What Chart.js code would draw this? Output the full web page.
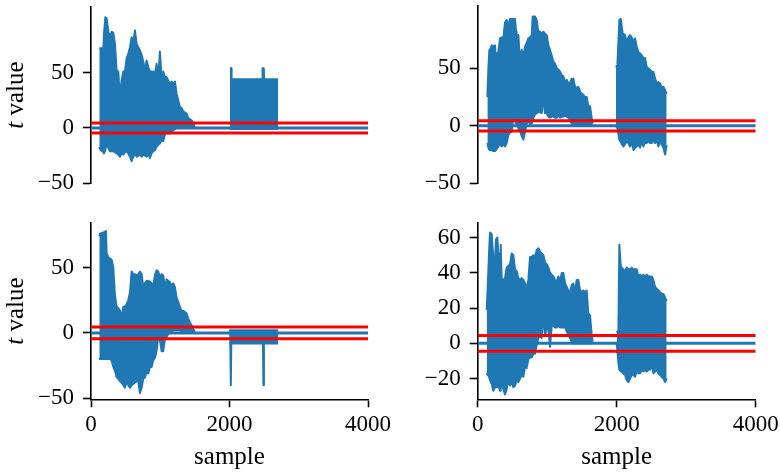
<!DOCTYPE html>
<html>
<head>
<meta charset="utf-8">
<script src="https://cdn.jsdelivr.net/npm/chart.js@4.4.1/dist/chart.umd.min.js"></script>
<style>
  html, body { margin: 0; padding: 0; background: #fff; }
  #wrap { position: relative; width: 780px; height: 475px; }
  #wrap canvas { position: absolute; left: 0; top: 0; }
</style>
</head>
<body>
<div id="wrap">
  <canvas id="tl" width="780" height="475"></canvas>
  <canvas id="tr" width="780" height="475"></canvas>
  <canvas id="bl" width="780" height="475"></canvas>
  <canvas id="br" width="780" height="475"></canvas>
</div>
<script>
// envelope of the t-value trace (upper / lower edge per sample)
// top-left
const tlX1 = [120, 140, 178, 188, 207, 226, 250, 274, 298, 322, 346, 370, 394, 418, 442, 466, 490, 514, 538, 563, 587, 611, 635, 659, 683, 707, 731, 755, 779, 803, 827, 851, 875, 899, 923, 947, 971, 995, 1019, 1043, 1067, 1091, 1115, 1139, 1163, 1188, 1212, 1236, 1260, 1284, 1308, 1332, 1380, 1404, 1452, 1476, 1500];
const tlHi1 = [72, 72, 72, 85, 100, 99, 87, 82, 87, 86, 76, 52, 51, 28, 43, 51, 51, 63, 67, 73, 82, 78, 88, 76, 73, 70, 66, 60, 52, 61, 55, 51, 51, 51, 48, 58, 45, 69, 46, 51, 46, 46, 43, 39, 42, 40, 42, 31, 25, 19, 18, 15, 13, 9, 7, 4, 1];
const tlLo1 = [-17, -20, -22, -23, -20, -14, -18, -21, -21, -21, -22, -23, -24, -26, -23, -24, -22, -21, -23, -26, -30, -26, -23, -26, -25, -24, -26, -24, -25, -26, -23, -27, -23, -21, -20, -17, -15, -14, -11, -12, -6, -3, -5, -5, -3, -2, -1, 0, 0, 0, 0, 0, 0, 0, 0, 0, 0];
const tlX2 = [2005, 2025, 2030, 2472, 2477, 2495, 2500, 2702];
const tlHi2 = [54, 54, 44, 44, 54, 54, 44, 44];
const tlLo2 = [-1, -1, -1, -1, -1, -1, -1, -1];

// top-right
const trX1 = [139, 153, 168, 187, 201, 225, 249, 264, 273, 297, 321, 345, 369, 393, 417, 441, 465, 489, 513, 537, 552, 561, 585, 600, 619, 633, 657, 681, 705, 729, 753, 777, 791, 825, 849, 873, 897, 921, 945, 969, 993, 1017, 1041, 1065, 1089, 1113, 1137, 1160, 1185, 1209, 1233, 1257, 1281, 1304, 1328, 1352, 1376, 1400, 1424, 1448, 1472, 1496, 1520, 1544, 1568, 1592, 1616, 1640, 1655];
const trHi1 = [25, 49, 66, 67, 70, 69, 70, 56, 63, 64, 76, 77, 76, 90, 92, 87, 93, 93, 93, 93, 82, 79, 79, 64, 61, 66, 61, 69, 72, 76, 77, 79, 95, 95, 92, 82, 82, 80, 82, 80, 79, 70, 66, 61, 56, 54, 50, 49, 47, 44, 43, 38, 40, 37, 37, 41, 41, 34, 33, 34, 30, 28, 27, 25, 25, 17, 17, 7, 2];
const trLo1 = [-15, -19, -21, -21, -21, -22, -22, -21, -21, -18, -16, -18, -16, -18, -15, -8, -6, -5, 8, 5, 2, 1, -2, -4, -6, -9, -12, -5, 2, 5, 1, 2, 6, 10, 11, 12, 12, 11, 25, 11, 11, 8, 7, 8, 8, 7, 7, 9, 7, 8, 8, 9, 8, 7, 5, 2, 1, 0, 0, 0, 0, 0, 0, 0, 0, 0, 0, 0, 0];
const trX2 = [1990, 2010, 2038, 2058, 2072, 2086, 2096, 2120, 2144, 2168, 2192, 2216, 2230, 2240, 2264, 2288, 2312, 2336, 2360, 2384, 2393, 2408, 2432, 2456, 2480, 2504, 2528, 2552, 2576, 2600, 2614, 2624, 2634, 2648, 2672, 2696, 2719];
const trHi2 = [51, 53, 92, 93, 87, 80, 80, 79, 72, 77, 79, 77, 73, 74, 76, 69, 64, 63, 61, 59, 53, 59, 51, 50, 49, 47, 47, 41, 37, 38, 35, 37, 37, 33, 34, 31, 28];
const trLo2 = [0, -2, -12, -14, -16, -17, -18, -16, -14, -15, -18, -16, -17, -21, -19, -18, -16, -19, -13, -18, -16, -15, -15, -13, -15, -15, -12, -15, -13, -18, -15, -15, -15, -16, -19, -25, -17];

// bottom-left
const blX1 = [120, 130, 178, 216, 226, 250, 274, 298, 322, 346, 370, 394, 418, 442, 466, 490, 514, 538, 563, 587, 611, 635, 659, 683, 707, 731, 755, 779, 803, 827, 851, 875, 899, 923, 947, 971, 995, 1019, 1043, 1067, 1091, 1115, 1139, 1163, 1188, 1212, 1236, 1284, 1308, 1332, 1380, 1404, 1428, 1452, 1476, 1500];
const blHi1 = [74, 76, 77, 78, 61, 58, 57, 56, 50, 29, 20, 19, 17, 12, 20, 20, 22, 25, 31, 47, 45, 45, 44, 45, 47, 45, 35, 38, 40, 40, 39, 38, 36, 44, 48, 47, 43, 45, 44, 36, 41, 40, 39, 36, 38, 35, 27, 20, 17, 17, 15, 11, 8, 6, 3, 1];
const blLo1 = [-19, -20, -20, -20, -20, -20, -20, -21, -26, -29, -34, -35, -37, -38, -40, -42, -37, -40, -42, -40, -39, -38, -37, -37, -46, -42, -35, -34, -30, -31, -26, -26, -21, -19, -14, -3, -5, -14, -14, -5, -3, -1, 0, 1, 2, 2, 2, 2, 1, 1, 0, 0, 0, 0, 0, 0];
const blX2 = [1995, 2012, 2019, 2026, 2483, 2490, 2497, 2702];
const blHi2 = [2, 2, 2, 2, 2, 2, 2, 2];
const blLo2 = [-8, -8, -40, -8, -8, -40, -8, -8];

// bottom-right
const brX1 = [129, 144, 163, 177, 201, 225, 249, 264, 273, 283, 297, 321, 331, 345, 369, 393, 417, 441, 465, 489, 513, 537, 561, 585, 609, 633, 657, 681, 705, 729, 753, 777, 801, 825, 849, 873, 897, 921, 945, 969, 993, 1017, 1041, 1065, 1089, 1113, 1137, 1160, 1185, 1209, 1233, 1257, 1281, 1304, 1328, 1352, 1376, 1400, 1424, 1448, 1472, 1496, 1520, 1544, 1568, 1592, 1616, 1640, 1655];
const brHi1 = [19, 32, 51, 63, 62, 48, 48, 59, 59, 60, 51, 51, 56, 37, 36, 37, 43, 44, 45, 51, 50, 42, 41, 37, 36, 37, 36, 34, 31, 36, 49, 49, 50, 49, 53, 54, 52, 51, 50, 46, 45, 43, 40, 39, 38, 36, 35, 38, 35, 40, 40, 34, 32, 30, 28, 33, 34, 29, 36, 36, 30, 29, 30, 29, 30, 17, 16, 5, 1];
const brLo1 = [-17, -18, -19, -21, -23, -27, -25, -25, -25, -25, -24, -27, -25, -23, -26, -29, -26, -21, -24, -22, -25, -24, -21, -22, -20, -18, -19, -13, -14, -9, -8, -8, -6, -6, -1, 3, 4, 3, 17, 4, 9, 8, -2, 10, 10, 9, 9, 10, 9, 9, 9, 9, 7, 5, 3, 1, 0, 0, 0, 0, 0, 0, 0, 0, 0, 0, 0, 0, 0];
const brX2 = [2000, 2024, 2038, 2058, 2072, 2096, 2120, 2144, 2168, 2192, 2216, 2240, 2264, 2288, 2312, 2336, 2360, 2384, 2408, 2432, 2456, 2480, 2504, 2528, 2552, 2576, 2600, 2624, 2648, 2672, 2696, 2719];
const brHi2 = [7, 6, 56, 44, 43, 42, 41, 43, 42, 42, 43, 42, 42, 42, 38, 39, 38, 39, 38, 39, 38, 38, 38, 36, 32, 31, 30, 29, 28, 28, 26, 24];
const brLo2 = [0, -11, -15, -16, -16, -17, -18, -21, -22, -20, -18, -18, -19, -16, -17, -17, -15, -16, -15, -16, -15, -15, -12, -17, -16, -15, -17, -18, -19, -20, -22, -20];

// flat part of the trace and the +/-4.5 threshold lines
const baseX = [0, 4000];
const threshold = 4.5;

// axis ticks
const xTicks = [0, 2000, 4000];
const bigTicks = [-50, 0, 50];
const brTicks = [-20, 0, 20, 40, 60];

const BLUE = '#1f77b4';
const FAM = 'Liberation Serif';

function pts(xs, ys) {
  return xs.map((x, i) => ({ x: x, y: ys[i] }));
}

function band(xs, hi, lo) {
  const common = {
    borderColor: BLUE, backgroundColor: BLUE, borderWidth: 2,
    pointRadius: 0, tension: 0, borderJoinStyle: 'round', order: 2
  };
  return [
    Object.assign({ data: pts(xs, hi), fill: '+1' }, common),
    Object.assign({ data: pts(xs, lo), fill: false }, common)
  ];
}

function hline(y, color, order) {
  return {
    data: baseX.map(x => ({ x: x, y: y })),
    borderColor: color, borderWidth: 3, pointRadius: 0, fill: false, order: order
  };
}

// y title with an italic "t", drawn rotated left of the axis
const yTitle = {
  id: 'yTitle',
  afterDraw(chart, args, opts) {
    if (!opts.show) return;
    const { ctx, chartArea } = chart;
    const it = 'italic 25px "' + FAM + '"';
    const rm = '25px "' + FAM + '"';
    ctx.save();
    ctx.translate(16, (chartArea.top + chartArea.bottom) / 2);
    ctx.rotate(-Math.PI / 2);
    ctx.fillStyle = '#000';
    ctx.textBaseline = 'middle';
    ctx.textAlign = 'left';
    ctx.font = it;
    const w1 = ctx.measureText('t').width;
    ctx.font = rm;
    const w2 = ctx.measureText(' value').width;
    const x0 = -(w1 + w2) / 2;
    ctx.font = it;
    ctx.fillText('t', x0, 0);
    ctx.font = rm;
    ctx.fillText(' value', x0 + w1, 0);
    ctx.restore();
  }
};

function minus(v) {
  return v < 0 ? '\u2212' + Math.abs(v) : String(v);
}

function panel(id, p) {
  const datasets = [];
  p.segs.forEach(s => datasets.push(...band(s[0], s[1], s[2])));
  datasets.push(hline(0, BLUE, 1));
  datasets.push(hline(threshold, 'red', 0));
  datasets.push(hline(-threshold, 'red', 0));

  new Chart(document.getElementById(id), {
    type: 'line',
    data: { datasets: datasets },
    plugins: [yTitle],
    options: {
      responsive: false,
      animation: false,
      devicePixelRatio: 1,
      layout: { padding: p.pad },
      plugins: {
        legend: { display: false },
        tooltip: { enabled: false },
        yTitle: { show: p.title }
      },
      scales: {
        x: {
          type: 'linear', min: 0, max: 4000, display: p.showX,
          afterBuildTicks: s => { s.ticks = xTicks.map(v => ({ value: v })); },
          afterFit: s => {
            if (!p.showX) return;
            s.height = 75; s.paddingLeft = 0; s.paddingRight = 0;
          },
          border: { display: true, color: '#000', width: 1.6 },
          grid: { display: true, drawOnChartArea: false, tickLength: 8, tickWidth: 1.6, tickColor: '#000' },
          ticks: { color: '#000', font: { family: FAM, size: 23 }, padding: 4, maxRotation: 0, autoSkip: false, callback: minus },
          title: { display: true, text: 'sample', color: '#000', font: { family: FAM, size: 25 }, padding: { top: 0, bottom: 2.3 } }
        },
        y: {
          type: 'linear', min: p.yMin, max: p.yMax,
          afterBuildTicks: s => { s.ticks = p.ticks.map(v => ({ value: v })); },
          afterFit: s => { s.width = p.yw; s.paddingTop = 0; s.paddingBottom = 0; },
          border: { display: true, color: '#000', width: 1.6 },
          grid: { display: true, drawOnChartArea: false, tickLength: 8, tickWidth: 1.6, tickColor: '#000' },
          ticks: { color: '#000', font: { family: FAM, size: 23 }, padding: 9, callback: minus }
        }
      }
    }
  });
}

panel('tl', {
  segs: [[tlX1, tlHi1, tlLo1], [tlX2, tlHi2, tlLo2]],
  yMin: -50, yMax: 109.6, ticks: bigTicks, yw: 91, title: true, showX: false,
  pad: { left: 0, right: 412, top: 6.7, bottom: 291.7 }
});
panel('tr', {
  segs: [[trX1, trHi1, trLo1], [trX2, trHi2, trLo2]],
  yMin: -50, yMax: 104.2, ticks: bigTicks, yw: 87.7, title: false, showX: false,
  pad: { left: 390, right: 24.3, top: 6, bottom: 291.7 }
});
panel('bl', {
  segs: [[blX1, blHi1, blLo1], [blX2, blHi2, blLo2]],
  yMin: -50.8, yMax: 84.4, ticks: bigTicks, yw: 91, title: true, showX: true,
  pad: { left: 0, right: 412, top: 222.7, bottom: 0.7 }
});
panel('br', {
  segs: [[brX1, brHi1, brLo1], [brX2, brHi2, brLo2]],
  yMin: -31.8, yMax: 68.5, ticks: brTicks, yw: 87.7, title: false, showX: true,
  pad: { left: 390, right: 24.3, top: 222.7, bottom: 0.7 }
});
</script>
</body>
</html>
